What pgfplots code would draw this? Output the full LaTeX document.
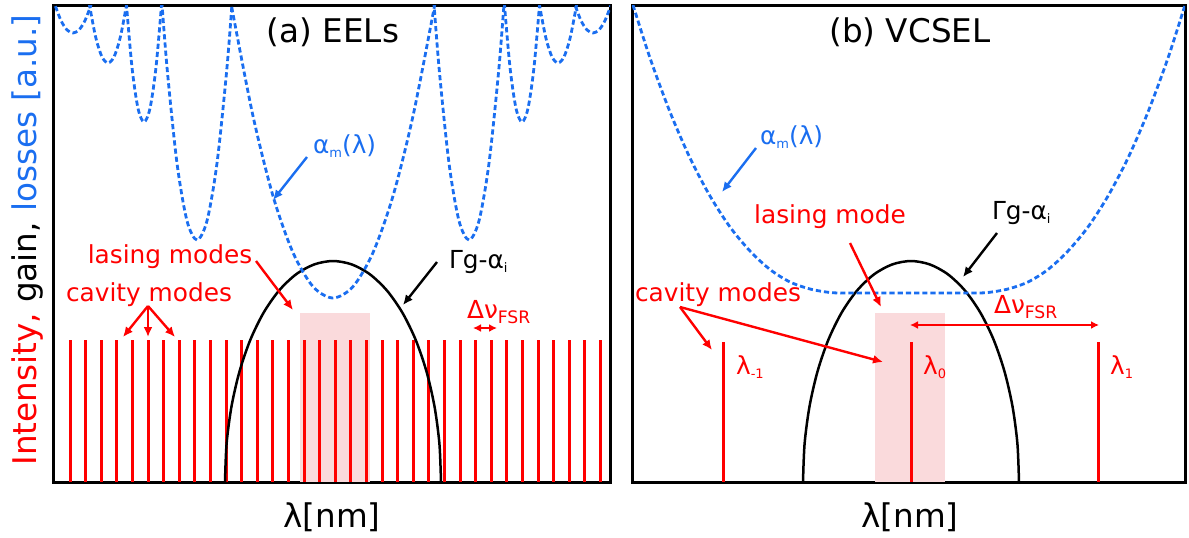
\documentclass[border=0pt]{standalone}
\usepackage{pgfplots}
\pgfplotsset{compat=1.18}
\usepackage{fontspec}
\setmainfont{DejaVu Sans}
\usetikzlibrary{arrows.meta}
\definecolor{lblue}{RGB}{26,110,240}
\definecolor{lpink}{RGB}{250,218,220}
\newcommand{\bigf}{\fontsize{16.3}{19}\selectfont}
\newcommand{\annf}{\fontsize{12.4}{14}\selectfont}
\newcommand{\sub}[1]{\raisebox{-1.8pt}{\fontsize{6.5}{7}\selectfont #1}}
\newcommand{\subb}[1]{\raisebox{-2.2pt}{\fontsize{8.6}{9}\selectfont #1}}
\tikzset{
  arr/.style={line width=1.2pt, -{Latex[length=5pt,width=4.5pt]}},
  darr/.style={line width=1.2pt, {Latex[length=4pt,width=4pt]}-{Latex[length=4pt,width=4pt]}},
}
\begin{document}
\begin{tikzpicture}[x=1pt,y=1pt]
\useasboundingbox (0,0) rectangle (594.5,268.5);
\pgfplotsset{
  panel/.style={scale only axis, height=238.5pt, ymin=0, ymax=477,
    xtick=\empty, ytick=\empty, clip mode=individual,
    axis line style={line width=1.5pt},
    every node/.append style={inner sep=0pt}},
  loss/.style={lblue, line width=1.4pt, dash pattern=on 2.6pt off 1.5pt, smooth, mark=none},
  gain/.style={black, line width=1.25pt, smooth, mark=none},
}
% ---------- left panel ----------
\begin{axis}[panel, at={(27pt,27.5pt)}, anchor=south west, width=278pt, xmin=0, xmax=556]
\addplot[fill=lpink, draw=none] coordinates {(246,169) (316,169)} \closedcycle;
\addplot[red, ycomb, line width=1.5pt, mark=none] coordinates {
(16,142) (31.6,142) (47.2,142) (62.8,142) (78.4,142) (94,142) (109.6,142)
(125.2,142) (140.8,142) (156.4,142) (172,142) (187.6,142) (203.2,142)
(218.8,142) (234.4,142) (250,142) (265.6,142) (281.2,142) (296.8,142)
(312.4,142) (328,142) (343.6,142) (359.2,142) (374.8,142) (390.4,142)
(406,142) (421.6,142) (437.2,142) (452.8,142) (468.4,142) (484,142)
(499.6,142) (515.2,142) (530.8,142) (546.4,142)};
\addplot[gain] coordinates {
(171,0) (172.6,38.4) (177.5,75.6) (185.5,110.5) (196.3,142.1) (209.6,169.3)
(225,191.4) (242.1,207.7) (260.3,217.6) (279,221) (297.7,217.6) (315.9,207.7)
(333,191.4) (348.4,169.3) (361.7,142.1) (372.5,110.5) (380.5,75.6)
(385.4,38.4) (387,0)};
% loss segments
\addplot[loss] coordinates {(-1,483.6) (1,477) (7,461.4) (13,452.1) (19,449) (25,452.1) (31,461.4) (37,477) (39,483.6)};
\addplot[loss] coordinates {(34,487) (36,474) (42,443.5) (48,425.1) (54,419) (60,425.1) (66,443.5) (72,474) (74,487)};
\addplot[loss] coordinates {(70,512) (72,483) (78,414.7) (84,373.7) (90,360) (96,373.7) (102,414.7) (108,483) (110,512)};
\addplot[loss] coordinates {(106,505) (113,414.8) (123,318.8) (133,261.2) (143,242) (153,261.2) (163,318.8) (173,414.8) (180,505)};
\addplot[loss] coordinates {(175,491) (179,468) (199,366) (219,286) (239,229.4) (259,195.4) (279,184) (299,195.4) (319,229.4) (339,286) (359,366) (379,468) (383,491)};
\addplot[loss] coordinates {(378,505) (385,414.8) (395,318.8) (405,261.2) (415,242) (425,261.2) (435,318.8) (445,414.8) (452,505)};
\addplot[loss] coordinates {(448,512) (450,483) (456,414.7) (462,373.7) (468,360) (474,373.7) (480,414.7) (486,483) (488,512)};
\addplot[loss] coordinates {(484,487) (486,474) (492,443.5) (498,425.1) (504,419) (510,425.1) (516,443.5) (522,474) (524,487)};
\addplot[loss] coordinates {(519,483.6) (521,477) (527,461.4) (533,452.1) (539,449) (545,452.1) (551,461.4) (557,477) (559,483.6)};
% annotations
\node[anchor=base, font=\bigf] at (axis cs:279,440) {(a) EELs};
\node[anchor=base, font=\bigf] at (axis cs:278,-45) {λ[nm]};
\node[anchor=west, text=lblue, font=\annf] at (axis cs:252,336) {α\sub{m}(λ)};
\draw[arr, lblue] (axis cs:253,325) -- (axis cs:219,282);
\node[text=red, font=\annf] at (axis cs:116,225) {lasing modes};
\draw[arr, red] (axis cs:202,221) -- (axis cs:239,172);
\node[text=red, font=\annf] at (axis cs:95,187) {cavity modes};
\draw[arr, red] (axis cs:94,176) -- (axis cs:69,145);
\draw[arr, red] (axis cs:94,176) -- (axis cs:94,145);
\draw[arr, red] (axis cs:94,176) -- (axis cs:121,145);
\node[anchor=west, font=\annf] at (axis cs:388,220) {Γg-α\sub{i}};
\draw[arr, black] (axis cs:383,220) -- (axis cs:349,177);
\node[anchor=west, text=red, font=\annf] at (axis cs:406,170) {Δν\subb{FSR}};
\draw[darr, red] (axis cs:419,154) -- (axis cs:443,154);
\end{axis}
% ---------- right panel ----------
\begin{axis}[panel, at={(316pt,27.5pt)}, anchor=south west, width=276.5pt, xmin=0, xmax=553]
\addplot[fill=lpink, draw=none] coordinates {(243,169) (313,169)} \closedcycle;
\addplot[red, ycomb, line width=1.5pt, mark=none] coordinates {(91,140) (279,140) (466,140)};
\addplot[gain] coordinates {
(171,0) (172.6,38.4) (177.5,75.6) (185.5,110.5) (196.3,142.1) (209.6,169.3)
(225,191.4) (242.1,207.7) (260.3,217.6) (279,221) (297.7,217.6) (315.9,207.7)
(333,191.4) (348.4,169.3) (361.7,142.1) (372.5,110.5) (380.5,75.6)
(385.4,38.4) (387,0)};
\addplot[loss] coordinates {
(1,477) (18,424) (38,370) (58,324) (78,286) (98,255) (118,231) (138,212.5)
(158,200) (178,193) (198,189.5) (213,189) (245,189) (279,189) (310,189)
(341,189) (356,189.5) (376,193) (396,200) (416,212.5) (436,231) (456,255)
(476,286) (496,324) (516,370) (536,424) (553,477)};
\node[anchor=base, font=\bigf] at (axis cs:278,440) {(b) VCSEL};
\node[anchor=base, font=\bigf] at (axis cs:278,-45) {λ[nm]};
\node[anchor=west, text=lblue, font=\annf] at (axis cs:121,345) {α\sub{m}(λ)};
\draw[arr, lblue] (axis cs:124,334) -- (axis cs:90,290);
\node[text=red, font=\annf] at (axis cs:198,265) {lasing mode};
\draw[arr, red] (axis cs:218,239) -- (axis cs:249,175);
\node[anchor=west, font=\annf] at (axis cs:353,269) {Γg-α\sub{i}};
\draw[arr, black] (axis cs:365,249) -- (axis cs:331,205);
\node[text=red, font=\annf] at (axis cs:86,187) {cavity modes};
\draw[arr, red] (axis cs:48,175) -- (axis cs:80,132);
\draw[arr, red] (axis cs:48,175) -- (axis cs:251,120);
\node[anchor=west, text=red, font=\annf] at (axis cs:355,175) {Δν\subb{FSR}};
\draw[darr, red] (axis cs:278,157) -- (axis cs:467,157);
\node[anchor=west, text=red, font=\annf] at (axis cs:97,115) {λ\sub{-1}};
\node[anchor=west, text=red, font=\annf] at (axis cs:284,115) {λ\sub{0}};
\node[anchor=west, text=red, font=\annf] at (axis cs:471,115) {λ\sub{1}};
\end{axis}
% y label
\node[rotate=90, anchor=base, font=\bigf] at (18,148.5) {\textcolor{red}{Intensity,} gain, \textcolor{lblue}{losses [a.u.]}};
\end{tikzpicture}
\end{document}
